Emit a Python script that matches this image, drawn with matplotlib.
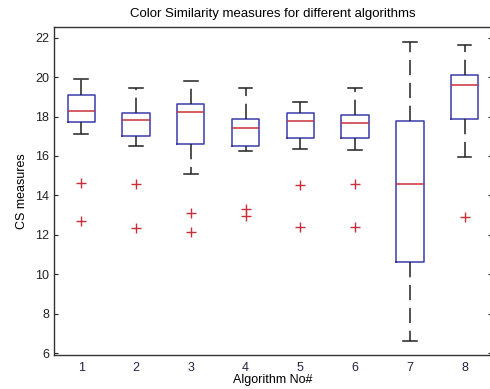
import matplotlib
matplotlib.use('Agg')
import matplotlib.pyplot as plt

plt.rcParams['font.family'] = ['Liberation Sans', 'DejaVu Sans']

algorithms = [1, 2, 3, 4, 5, 6, 7, 8]
medians = [18.27, 17.82, 18.25, 17.43, 17.75, 17.65, 14.56, 19.59]
q1 = [17.70, 17.02, 16.60, 16.50, 16.92, 16.92, 10.63, 17.90]
q3 = [19.08, 18.17, 18.63, 17.90, 18.17, 18.10, 17.80, 20.09]
whislo = [17.12, 16.50, 15.08, 16.26, 16.36, 16.31, 6.64, 15.96]
whishi = [19.93, 19.47, 19.79, 19.44, 18.73, 19.44, 21.78, 21.63]
outliers = [[14.62, 12.68], [14.56, 12.37], [13.13, 12.16], [13.31, 12.97],
            [14.55, 12.42], [14.56, 12.42], [], [12.89]]

stats = []
for i in range(len(algorithms)):
    stats.append(dict(med=medians[i], q1=q1[i], q3=q3[i],
                      whislo=whislo[i], whishi=whishi[i], fliers=outliers[i]))

fig = plt.figure(figsize=(4.9, 3.89), dpi=100)
ax = fig.add_axes([0.110, 0.087, 0.894, 0.844])

blue = '#3a3aa8'
red = '#c8303a'
ax.bxp(stats, positions=algorithms, widths=0.5, showfliers=True,
       boxprops=dict(color=blue, linewidth=1.1),
       medianprops=dict(color=red, linewidth=1.1),
       whiskerprops=dict(color='#222222', linewidth=1.1, linestyle=(0, (10, 5))),
       capprops=dict(color='#222222', linewidth=1.1),
       flierprops=dict(marker='+', markeredgecolor=red, markersize=7, markeredgewidth=1.0))

ax.set_xlim(0.5, 8.5)
ax.set_ylim(5.9, 22.55)
ax.set_yticks([6, 8, 10, 12, 14, 16, 18, 20, 22])
ax.set_xticks(algorithms)
ax.set_xticklabels([str(a) for a in algorithms])
ax.tick_params(axis='y', direction='in', length=3, left=True, right=True, labelsize=9, colors='#222222')
ax.tick_params(axis='x', length=0, labelsize=9, pad=5, colors='#222244')
for s in ax.spines.values():
    s.set_color('#333333')
    s.set_linewidth(1.0)

ax.set_title('Color Similarity measures for different algorithms', fontsize=9.5, pad=7)
ax.set_xlabel('Algorithm No#', fontsize=9, labelpad=0)
ax.set_ylabel('CS measures', fontsize=9, labelpad=5)

fig.savefig('out.png', dpi=100)
